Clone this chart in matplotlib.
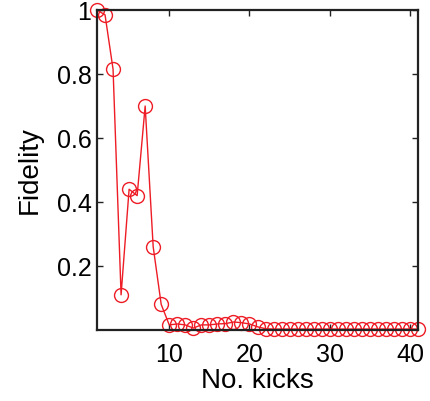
"""
Fidelity vs number of kicks, MATLAB-style line with open circle markers.
"""

import numpy as np
import matplotlib.pyplot as plt

plt.rcParams['font.family'] = ['Liberation Sans', 'DejaVu Sans']

KICKS = list(range(1, 42))
FIDELITY = [
    1.0, 0.985, 0.815, 0.11, 0.44, 0.42, 0.70, 0.26, 0.08, 0.016,
    0.019, 0.016, 0.006, 0.016, 0.016, 0.019, 0.020, 0.025, 0.023, 0.019,
    0.010, 0.004, 0.003, 0.003, 0.003, 0.003, 0.003, 0.003, 0.003, 0.003,
    0.003, 0.003, 0.003, 0.003, 0.003, 0.003, 0.003, 0.003, 0.003, 0.003,
    0.003,
]
Y_TICKS = [0.2, 0.4, 0.6, 0.8, 1.0]
Y_TICK_LABELS = ['0.2', '0.4', '0.6', '0.8', '1']
X_TICKS = [10, 20, 30, 40]


def plot_fidelity():
    fig = plt.figure(figsize=(4.30, 4.01), dpi=100)
    ax = fig.add_axes([0.2256, 0.177, 0.7465, 0.798])

    ax.plot(KICKS, FIDELITY, color='#ee1c25', linewidth=1.0,
            marker='o', markersize=10, markerfacecolor='none',
            markeredgecolor='#ee1c25', markeredgewidth=1.0, clip_on=False)

    ax.set_xlim(1, 41)
    ax.set_ylim(0, 1)
    ax.set_xticks(X_TICKS)
    ax.set_yticks(Y_TICKS)
    ax.set_yticklabels(Y_TICK_LABELS)
    ax.tick_params(direction='in', length=4, width=1, labelsize=18,
                   top=True, right=True, color='#222222')
    ax.tick_params(axis='y', pad=4)
    ax.tick_params(axis='x', pad=9)

    for spine in ax.spines.values():
        spine.set_linewidth(1.6)
        spine.set_color('#222222')

    ax.set_xlabel('No. kicks', fontsize=20, labelpad=1)
    ax.set_ylabel('Fidelity', fontsize=20, labelpad=10)

    fig.savefig('out.png', dpi=100)
    plt.close(fig)


if __name__ == '__main__':
    plot_fidelity()
